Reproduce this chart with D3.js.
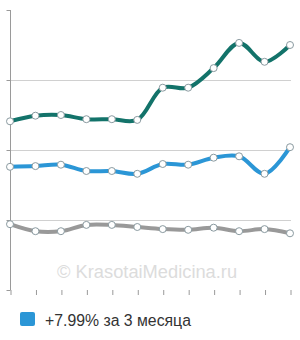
<!DOCTYPE html>
<html>
<head>
<meta charset="utf-8">
<script src="https://cdn.jsdelivr.net/npm/d3@7"></script>
<style>
  body { margin: 0; background: #fff; }
  svg { display: block; font-family: Arial, "Liberation Sans", sans-serif; }
</style>
</head>
<body>
<div id="chart"></div>
<script>
// Data (12 points per series)
var months = [1, 2, 3, 4, 5, 6, 7, 8, 9, 10, 11, 12];
var seriesTop = [24.1, 24.9, 25.0, 24.4, 24.4, 24.3, 28.9, 28.9, 31.7, 35.3, 32.6, 35.0];
var seriesMid = [17.6, 17.7, 17.9, 17.0, 17.0, 16.6, 18.0, 17.9, 18.9, 19.1, 16.6, 20.4];
var seriesLow = [9.4, 8.4, 8.4, 9.3, 9.3, 9.0, 8.7, 8.6, 8.9, 8.4, 8.7, 8.1];
var yTicks = [0, 10, 20, 30, 40];
var legendLabel = "+7.99% за 3 месяца";
var watermark = "© KrasotaiMedicina.ru";

var width = 300;
var height = 340;
var margin = { top: 10, right: 10, bottom: 50, left: 10 };

var svg = d3.select('#chart')
    .append('svg')
    .attr('width', width)
    .attr('height', height);

var xScale = d3.scalePoint()
    .domain(months)
    .range([margin.left, width - margin.right]);

var yScale = d3.scaleLinear()
    .domain([0, 40])
    .range([height - margin.bottom, margin.top]);

// Grid lines
svg.append('g')
    .selectAll('line')
    .data(yTicks.slice(1, 4))
    .enter()
    .append('line')
    .attr('x1', margin.left)
    .attr('x2', width - margin.right + 1)
    .attr('y1', d => yScale(d) + 0.5)
    .attr('y2', d => yScale(d) + 0.5)
    .style('stroke', '#d0d0d0')
    .style('stroke-width', 1);

// Watermark
svg.append('text')
    .attr('x', 57)
    .attr('y', 278)
    .style('font-size', '18.3px')
    .style('fill', '#dcdcdc')
    .text(watermark);

// Y axis
var yAxis = d3.axisLeft(yScale).tickValues(yTicks).tickSize(4).tickFormat('');
var gy = svg.append('g')
    .attr('transform', 'translate(' + (margin.left + 0.5) + ',0)')
    .call(yAxis);
gy.select('.domain').attr('d', 'M0,' + yScale(40) + 'V' + yScale(0)).style('stroke', '#9a9a9a');
gy.selectAll('.tick line').style('stroke', '#9a9a9a');

// X axis (ticks only)
var xAxis = d3.axisBottom(xScale).tickSize(5).tickFormat('');
var gx = svg.append('g')
    .attr('transform', 'translate(0.5,' + (height - margin.bottom) + ')')
    .call(xAxis);
gx.select('.domain').remove();
gx.selectAll('.tick line').style('stroke', '#9a9a9a');

// Lines
var line = d3.line()
    .x((d, i) => xScale(months[i]))
    .y(d => yScale(d))
    .curve(d3.curveCatmullRom.alpha(0.5));

var series = [
    { values: seriesLow, color: '#999999' },
    { values: seriesMid, color: '#2b96d6' },
    { values: seriesTop, color: '#13736a' }
];

series.forEach(s => {
    svg.append('path')
        .datum(s.values)
        .attr('d', line)
        .style('fill', 'none')
        .style('stroke', s.color)
        .style('stroke-width', 4)
        .style('stroke-linecap', 'round');

    svg.append('g')
        .selectAll('circle')
        .data(s.values)
        .enter()
        .append('circle')
        .attr('cx', (d, i) => xScale(months[i]))
        .attr('cy', d => yScale(d))
        .attr('r', 3.5)
        .style('fill', '#fff')
        .style('stroke', '#8a9aa0')
        .style('stroke-width', 1);
});

// Legend
svg.append('rect')
    .attr('x', 20)
    .attr('y', 312)
    .attr('width', 15)
    .attr('height', 14)
    .attr('rx', 2)
    .style('fill', '#2b96d6');

svg.append('text')
    .attr('x', 45)
    .attr('y', 326)
    .style('font-size', '15.8px')
    .style('fill', '#333')
    .text(legendLabel);
</script>
</body>
</html>
